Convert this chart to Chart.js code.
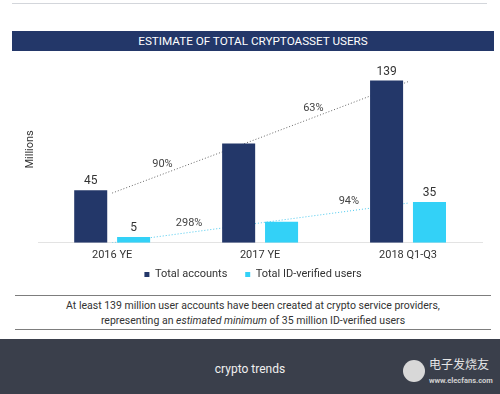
<!DOCTYPE html>
<html>
<head>
<meta charset="utf-8">
<script src="https://cdn.jsdelivr.net/npm/chart.js@4.4.0/dist/chart.umd.min.js"></script>
<style>
  body { margin: 0; width: 500px; height: 394px; background: #fff; position: relative; overflow: hidden; font-family: Roboto, sans-serif; }
  .topline { position: absolute; left: 12px; top: 3px; width: 475px; height: 1px; background: #d3d6db; }
  .titlebar { position: absolute; left: 12px; top: 31px; width: 482px; height: 20px; background: #233769; color: #fff; font-size: 11.7px; font-weight: 400; text-align: center; line-height: 20px; }
  #wrap { position: absolute; left: 0; top: 52px; width: 500px; height: 238px; }
  .note { position: absolute; left: 15px; top: 295px; width: 476px; height: 35px; box-sizing: border-box; border-top: 1px solid #7d7d7d; border-bottom: 1px solid #7d7d7d; text-align: center; font-size: 10.5px; color: #333; line-height: 15px; padding-top: 2px; }
  .footer { position: absolute; left: 0; top: 339px; width: 500px; height: 55px; background: #3a3f4b; }
  .footer .brand { position: absolute; left: 0; width: 500px; top: 23px; text-align: center; color: #f0f0f0; font-size: 12px; }
  .footer .logo { position: absolute; left: 403px; top: 21px; width: 22px; height: 22px; border-radius: 50%; background: #d8d8d8; }
  .footer .cn { position: absolute; left: 429px; top: 16px; color: #e6e6e6; font-size: 12px; font-family: "Noto Sans CJK SC", sans-serif; }
  .footer .url { position: absolute; left: 429px; top: 37px; color: #d0d0d0; font-size: 7.5px; font-weight: bold; }
</style>
</head>
<body>
<div class="topline"></div>
<div class="titlebar">ESTIMATE OF TOTAL CRYPTOASSET USERS</div>
<div id="wrap"><canvas id="chart"></canvas></div>
<div class="note">At least 139 million user accounts have been created at crypto service providers,<br>representing an <i>estimated minimum</i> of 35 million ID-verified users</div>
<div class="footer">
  <div class="brand">crypto trends</div>
  <div class="logo"></div>
  <div class="cn">电子发烧友</div>
  <div class="url">www.elecfans.com</div>
</div>
<script>
const categories = ['2016 YE', '2017 YE', '2018 Q1-Q3'];
const totalAccounts = [45, 85, 139];
const idVerified = [5, 18, 35];
const shownTotals = ['45', null, '139'];
const shownVerified = ['5', null, '35'];
const accountsTrend = [42.6, 90, 138];
const verifiedTrend = [0, 17, 34];
const accountsGrowth = ['90%', '63%'];
const verifiedGrowth = ['298%', '94%'];

const navy = '#233769';
const cyan = '#33d1f7';

// numbers above the bars
const valueLabels = {
    id: 'valueLabels',
    afterDatasetsDraw(chart) {
        const ctx = chart.ctx;
        ctx.save();
        ctx.font = '12px Roboto';
        ctx.fillStyle = '#333';
        ctx.textAlign = 'center';
        ctx.textBaseline = 'bottom';
        [[0, shownTotals], [1, shownVerified]].forEach(([i, labels]) => {
            chart.getDatasetMeta(i).data.forEach((bar, j) => {
                if (labels[j]) ctx.fillText(labels[j], bar.x, bar.y - 3);
            });
        });
        ctx.restore();
    }
};

// growth percentages along the dotted lines
const growthLabels = {
    id: 'growthLabels',
    afterDatasetsDraw(chart) {
        const ctx = chart.ctx;
        const x = chart.scales.x, y = chart.scales.y;
        ctx.save();
        ctx.font = '11px Roboto';
        ctx.fillStyle = '#444';
        ctx.textAlign = 'center';
        ctx.textBaseline = 'bottom';
        const put = (trend, labels, ts) => {
            labels.forEach((txt, i) => {
                const t = ts[i];
                const px = x.getPixelForValue(i) + (x.getPixelForValue(i + 1) - x.getPixelForValue(i)) * t;
                const v = trend[i] + (trend[i + 1] - trend[i]) * t;
                ctx.fillText(txt, px, y.getPixelForValue(v) - 4);
            });
        };
        put(accountsTrend, accountsGrowth, [0.34, 0.36]);
        put(verifiedTrend, verifiedGrowth, [0.52, 0.6]);
        ctx.restore();
    }
};

new Chart(document.getElementById('chart'), {
    data: {
        labels: categories,
        datasets: [
            { type: 'bar', label: 'Total accounts', data: totalAccounts, backgroundColor: navy, order: 1 },
            { type: 'bar', label: 'Total ID-verified users', data: idVerified, backgroundColor: cyan, order: 1 },
            { type: 'line', label: 'trend1', data: accountsTrend, borderColor: '#666', borderWidth: 1, borderDash: [1, 2], pointRadius: 0, order: 2 },
            { type: 'line', label: 'trend2', data: verifiedTrend, borderColor: '#4cc9ee', borderWidth: 1, borderDash: [1, 2], pointRadius: 0, order: 2 }
        ]
    },
    options: {
        responsive: true,
        maintainAspectRatio: false,
        animation: false,
        layout: { padding: { top: 4, left: 24, right: 18, bottom: 0 } },
        datasets: { bar: { categoryPercentage: 0.58, barPercentage: 0.77 } },
        scales: {
            x: {
                grid: { display: false, drawTicks: false },
                border: { color: '#e3e3e3' },
                ticks: { padding: 6, color: '#333', font: { family: 'Roboto', size: 11 } }
            },
            y: {
                min: 0,
                max: 160,
                grid: { display: false, drawTicks: false },
                border: { display: false },
                ticks: { display: false },
                title: { display: true, text: 'Millions', color: '#333', padding: { top: 0, bottom: 1 }, font: { family: 'Roboto', size: 11 } }
            }
        },
        plugins: {
            legend: {
                position: 'bottom',
                labels: {
                    filter: (item) => item.datasetIndex < 2,
                    generateLabels(chart) {
                        const items = Chart.defaults.plugins.legend.labels.generateLabels(chart);
                        if (items[0]) items[0].text += '\u2003\u2002';
                        return items;
                    },
                    boxWidth: 5,
                    boxHeight: 5,
                    padding: 1,
                    color: '#333',
                    font: { family: 'Roboto', size: 11 }
                }
            },
            tooltip: { enabled: false }
        }
    },
    plugins: [valueLabels, growthLabels]
});
</script>
</body>
</html>
